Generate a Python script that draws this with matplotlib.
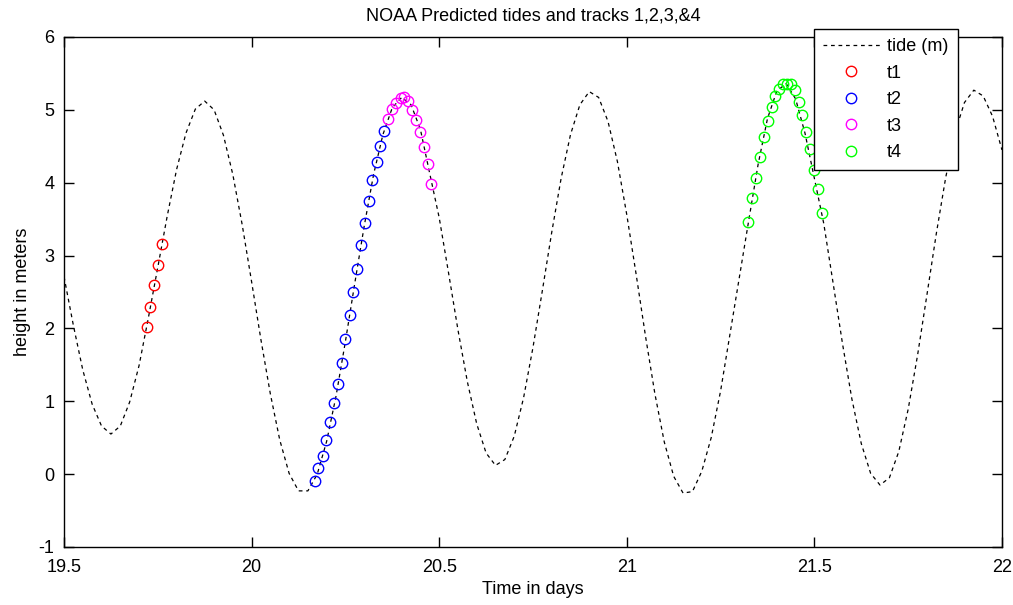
#!/usr/bin/env python3

"""
   plot.py

    NOAA predicted tide with the four tracks overlaid.
"""

import matplotlib as mpl
mpl.use("Agg")
import matplotlib.pyplot as plt
import numpy as np

mpl.rcParams["font.family"] = ["Liberation Sans", "DejaVu Sans"]
mpl.rcParams["axes.unicode_minus"] = False
mpl.rcParams["legend.fancybox"] = False
mpl.rcParams["legend.edgecolor"] = "black"

# predicted tide, sampled every 0.025 day from 19.5 to 22
tide_day = np.linspace(19.5, 22.0, 101)
tide_height = [
    2.71, 2.04, 1.43, 0.96, 0.66, 0.55, 0.66, 0.99, 1.49, 2.15,
    2.84, 3.54, 4.18, 4.68, 5.01, 5.12, 5.00, 4.65, 4.11, 3.42,
    2.64, 1.84, 1.10, 0.47, 0.01, -0.23, -0.23, 0.00, 0.45, 1.07,
    1.82, 2.62, 3.40, 4.11, 4.66, 5.03, 5.17, 5.07, 4.73, 4.12,
    3.52, 2.76, 1.98, 1.27, 0.69, 0.29, 0.12, 0.20, 0.52, 1.05,
    1.74, 2.52, 3.32, 4.06, 4.66, 5.07, 5.25, 5.17, 4.84, 4.29,
    3.56, 2.74, 1.89, 1.10, 0.44, -0.03, -0.26, -0.24, 0.04, 0.50,
    1.14, 1.92, 2.70, 3.48, 4.25, 4.88, 5.26, 5.36, 5.15, 4.68,
    4.06, 3.44, 2.62, 1.79, 1.03, 0.42, 0.01, -0.15, -0.05, 0.31,
    0.89, 1.63, 2.46, 3.30, 4.07, 4.69, 5.10, 5.27, 5.19, 4.91,
    4.45,
]

# track 1
t1_day = [19.720, 19.730, 19.741, 19.751, 19.761]
t1_height = [2.02, 2.29, 2.59, 2.87, 3.16]

# track 2
t2_day = [20.168, 20.178, 20.189, 20.199, 20.209, 20.220, 20.230, 20.240,
          20.250, 20.261, 20.271, 20.281, 20.292, 20.302, 20.312, 20.322,
          20.333, 20.343, 20.353]
t2_height = [-0.09, 0.08, 0.25, 0.47, 0.71, 0.97, 1.24, 1.53, 1.85, 2.18,
             2.50, 2.82, 3.14, 3.45, 3.75, 4.03, 4.28, 4.51, 4.71]

# track 3
t3_day = [20.364, 20.375, 20.386, 20.397, 20.407, 20.418, 20.428, 20.438,
          20.449, 20.459, 20.469, 20.479]
t3_height = [4.88, 5.01, 5.10, 5.16, 5.17, 5.12, 5.00, 4.86, 4.69, 4.49,
             4.25, 3.98]

# track 4
t4_day = [21.324, 21.334, 21.345, 21.355, 21.365, 21.376, 21.386, 21.396,
          21.406, 21.417, 21.427, 21.437, 21.448, 21.458, 21.468, 21.479,
          21.489, 21.499, 21.509, 21.520]
t4_height = [3.46, 3.79, 4.07, 4.35, 4.63, 4.84, 5.04, 5.19, 5.28, 5.35,
             5.36, 5.35, 5.27, 5.11, 4.93, 4.70, 4.46, 4.18, 3.91, 3.58]

x_ticks = [19.5, 20, 20.5, 21, 21.5, 22]
x_tick_labels = ["19.5", "20", "20.5", "21", "21.5", "22"]
y_ticks = [-1, 0, 1, 2, 3, 4, 5, 6]


def main():
    fig = plt.figure(figsize=(10.13, 6.05), dpi=100, facecolor="white")
    ax = fig.add_axes([0.0632, 0.0959, 0.9259, 0.8430])

    ax.plot(tide_day, tide_height, color="black", linestyle=(0, (3, 3)),
            linewidth=0.9, label="tide (m)")

    marker_kw = dict(linestyle="none", marker="o", markersize=7.5,
                     markerfacecolor="none", markeredgewidth=1.0)
    ax.plot(t1_day, t1_height, markeredgecolor="#ff0000", label="t1", **marker_kw)
    ax.plot(t2_day, t2_height, markeredgecolor="#0000ff", label="t2", **marker_kw)
    ax.plot(t3_day, t3_height, markeredgecolor="#ff00ff", label="t3", **marker_kw)
    ax.plot(t4_day, t4_height, markeredgecolor="#00ff00", label="t4", **marker_kw)

    # axes, matlab style
    ax.set_xlim(19.5, 22)
    ax.set_ylim(-1, 6)
    ax.set_xticks(x_ticks)
    ax.set_xticklabels(x_tick_labels)
    ax.set_yticks(y_ticks)
    ax.tick_params(direction="in", length=7, width=1.0, top=True, right=True,
                   labelsize=13)
    ax.tick_params(axis="x", pad=9)
    ax.tick_params(axis="y", pad=7)
    for sp in ax.spines.values():
        sp.set_linewidth(1.0)

    ax.set_title("NOAA Predicted tides and tracks 1,2,3,&4", fontsize=13, pad=12)
    ax.set_xlabel("Time in days", fontsize=13, labelpad=3)
    ax.set_ylabel("height in meters", fontsize=13, labelpad=5)

    leg = ax.legend(loc="upper left", bbox_to_anchor=(0.7996, 1.0157),
                    borderaxespad=0, fontsize=13, handlelength=3.15,
                    handletextpad=0.4, labelspacing=0.53, borderpad=0.5,
                    framealpha=1.0, markerfirst=True)
    leg.get_frame().set_linewidth(1.0)

    fig.savefig("out.png", dpi=100, facecolor="white")
    plt.close()


if __name__ == "__main__":
    main()
